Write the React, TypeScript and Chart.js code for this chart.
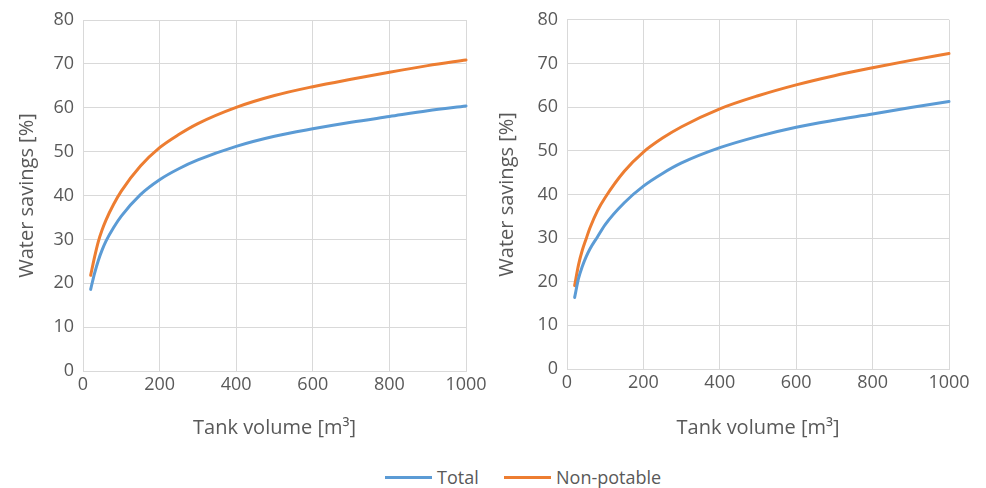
import React, { useEffect, useRef } from "react";
import { Chart, registerables } from "chart.js";

Chart.register(...registerables);

const volumes = [20, 30, 40, 50, 60, 80, 100, 150, 200, 250, 300, 400, 500, 600, 700, 800, 900, 1000];

const leftTotal = [18.6, 22.2, 25.2, 27.6, 29.6, 32.7, 35.3, 40.2, 43.6, 46.1, 48.1, 51.2, 53.5, 55.2, 56.7, 58.0, 59.3, 60.4];
const leftNonPotable = [21.8, 25.9, 29.5, 32.2, 34.4, 38.0, 41.0, 46.7, 50.9, 53.9, 56.4, 60.1, 62.8, 64.8, 66.5, 68.1, 69.6, 70.9];

const rightTotal = [16.4, 20.7, 23.5, 25.7, 27.5, 30.3, 33.1, 38.1, 41.9, 44.8, 47.2, 50.7, 53.3, 55.4, 57.0, 58.4, 59.9, 61.3];
const rightNonPotable = [19.1, 23.8, 27.2, 29.8, 32.3, 36.3, 39.3, 45.3, 49.7, 52.9, 55.5, 59.6, 62.6, 65.1, 67.2, 69.0, 70.7, 72.3];

const seriesNames = ["Total", "Non-potable"];
const seriesColors = ["#5B9BD5", "#ED7D31"];
const xTitle = "Tank volume [m³]";
const yTitle = "Water savings [%]";

const FONT = "'Open Sans', sans-serif";
const TEXT = "#595959";
const GRID = "#d9d9d9";

type PanelCfg = {
  total: number[];
  nonPotable: number[];
  yWidth: number;
  xHeight: number;
  padRight: number;
  padTop: number;
  yTitlePad: number;
};

function Panel({ cfg, width }: { cfg: PanelCfg; width: number }) {
  const ref = useRef<HTMLCanvasElement | null>(null);
  useEffect(() => {
    if (!ref.current) return;
    const mk = (vals: number[]) => volumes.map((v, i) => ({ x: v, y: vals[i] }));
    const ds = (i: number, vals: number[]) => ({
      label: seriesNames[i],
      data: mk(vals),
      borderColor: seriesColors[i],
      backgroundColor: seriesColors[i],
      borderWidth: 3,
      pointRadius: 0,
      cubicInterpolationMode: "monotone" as const,
      borderCapStyle: "round" as const,
      borderJoinStyle: "round" as const,
      clip: false as any,
    });
    const chart = new Chart(ref.current, {
      type: "line",
      data: { datasets: [ds(0, cfg.total), ds(1, cfg.nonPotable)] },
      options: {
        animation: false,
        responsive: false,
        maintainAspectRatio: false,
        layout: { padding: { left: 0, right: cfg.padRight, top: cfg.padTop, bottom: 0 } },
        plugins: { legend: { display: false }, tooltip: { enabled: false } },
        scales: {
          x: {
            type: "linear",
            min: 0,
            max: 1000,
            ticks: {
              stepSize: 200,
              color: TEXT,
              font: { family: FONT, size: 18 },
              padding: 3,
              maxRotation: 0,
              callback: (v: any) => String(v),
            },
            grid: { color: GRID, lineWidth: 1, drawTicks: false },
            border: { color: GRID, width: 1 },
            title: {
              display: true,
              text: xTitle,
              color: TEXT,
              font: { family: FONT, size: 20 },
              padding: { top: 0, bottom: 10 },
            },
            afterFit: (s: any) => {
              s.height = cfg.xHeight;
            },
          },
          y: {
            min: 0,
            max: 80,
            ticks: { stepSize: 10, color: TEXT, font: { family: FONT, size: 18 }, padding: 9 },
            grid: { color: GRID, lineWidth: 1, drawTicks: false },
            border: { color: GRID, width: 1 },
            title: {
              display: true,
              text: yTitle,
              color: TEXT,
              font: { family: FONT, size: 20 },
              padding: { top: cfg.yTitlePad, bottom: 0 },
            },
            afterFit: (s: any) => {
              s.width = cfg.yWidth;
            },
          },
        },
      },
    });
    return () => chart.destroy();
  }, []);
  return <canvas ref={ref} width={width} height={450} style={{ display: "block", width, height: 450 }} />;
}

export default function App() {
  useEffect(() => {
    document.body.style.margin = "0";
  }, []);
  const leftCfg: PanelCfg = {
    total: leftTotal,
    nonPotable: leftNonPotable,
    yWidth: 83,
    xHeight: 79,
    padRight: 24,
    padTop: 20,
    yTitlePad: 15,
  };
  const rightCfg: PanelCfg = {
    total: rightTotal,
    nonPotable: rightNonPotable,
    yWidth: 77,
    xHeight: 81,
    padRight: 37,
    padTop: 19,
    yTitlePad: 5,
  };
  const legendItem = (i: number, left: number, lineW: number) => (
    <div style={{ position: "absolute", left, top: 464, display: "flex", alignItems: "center", height: 26 }}>
      <div style={{ width: lineW, height: 3, background: seriesColors[i], marginRight: 5 }} />
      <span style={{ fontFamily: FONT, fontSize: 18, color: TEXT }}>{seriesNames[i]}</span>
    </div>
  );
  return (
    <div style={{ position: "relative", width: 986, height: 488, background: "#fff", overflow: "hidden" }}>
      <div style={{ position: "absolute", left: 0, top: 0 }}>
        <Panel cfg={leftCfg} width={490} />
      </div>
      <div style={{ position: "absolute", left: 490, top: 0 }}>
        <Panel cfg={rightCfg} width={496} />
      </div>
      {legendItem(0, 385, 47)}
      {legendItem(1, 504, 47)}
    </div>
  );
}
